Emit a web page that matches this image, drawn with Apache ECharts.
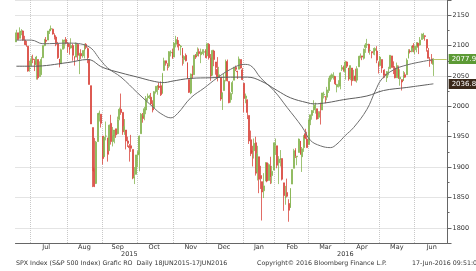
<!DOCTYPE html>
<html>
<head>
<meta charset="utf-8">
<script src="https://cdn.jsdelivr.net/npm/echarts/dist/echarts.min.js"></script>
</head>
<body style="margin:0">
<div id="main" style="width:476px;height:271px"></div>
<script>
// trading days in the window, per month
const tradingDays = {
    '2015-06': [18,19,22,23,24,25,26,29,30],
    '2015-07': [1,2,6,7,8,9,10,13,14,15,16,17,20,21,22,23,24,27,28,29,30,31],
    '2015-08': [3,4,5,6,7,10,11,12,13,14,17,18,19,20,21,24,25,26,27,28,31],
    '2015-09': [1,2,3,4,8,9,10,11,14,15,16,17,18,21,22,23,24,25,28,29,30],
    '2015-10': [1,2,5,6,7,8,9,12,13,14,15,16,19,20,21,22,23,26,27,28,29,30],
    '2015-11': [2,3,4,5,6,9,10,11,12,13,16,17,18,19,20,23,24,25,27,30],
    '2015-12': [1,2,3,4,7,8,9,10,11,14,15,16,17,18,21,22,23,24,28,29,30,31],
    '2016-01': [4,5,6,7,8,11,12,13,14,15,19,20,21,22,25,26,27,28,29],
    '2016-02': [1,2,3,4,5,8,9,10,11,12,16,17,18,19,22,23,24,25,26,29],
    '2016-03': [1,2,3,4,7,8,9,10,11,14,15,16,17,18,21,22,23,24,28,29,30,31],
    '2016-04': [1,4,5,6,7,8,11,12,13,14,15,18,19,20,21,22,25,26,27,28,29],
    '2016-05': [2,3,4,5,6,9,10,11,12,13,16,17,18,19,20,23,24,25,26,27,31],
    '2016-06': [1,2,3,6,7,8,9,10,13,14,15,16]
};

// daily candles: [open, close, low, high]
const ohlc = [
    [2106,2121,2106,2126],[2121,2110,2109,2121],[2112,2123,2112,2130],[2123,2124,2117,2127],[2124,2109,2108,2125],
    [2109,2102,2101,2116],[2102,2101,2098,2108],[2099,2058,2057,2099],[2062,2063,2057,2075],
    // Jul
    [2067,2077,2067,2083],[2078,2077,2071,2085],[2074,2069,2058,2078],[2069,2081,2044,2083],[2077,2047,2044,2077],
    [2049,2051,2049,2074],[2052,2077,2052,2081],[2080,2100,2080,2100],[2100,2109,2099,2111],[2109,2107,2103,2114],
    [2109,2124,2109,2124],[2124,2127,2119,2127],[2127,2128,2124,2133],[2127,2119,2118,2128],[2118,2114,2110,2120],
    [2114,2102,2099,2117],[2103,2080,2078,2106],[2078,2068,2064,2078],[2070,2093,2070,2095],[2094,2109,2094,2110],
    [2107,2109,2095,2110],[2110,2104,2102,2114],
    // Aug
    [2104,2098,2088,2106],[2097,2093,2085,2103],[2096,2100,2095,2112],[2100,2084,2075,2103],[2082,2078,2067,2082],
    [2081,2104,2081,2105],[2102,2084,2076,2102],[2082,2086,2053,2088],[2087,2083,2078,2094],[2083,2092,2080,2092],
    [2090,2102,2079,2103],[2102,2097,2094,2104],[2095,2080,2071,2097],[2077,2036,2036,2077],[2034,1971,1971,2034],
    [1965,1893,1867,1965],[1898,1868,1867,1948],[1873,1941,1872,1943],[1942,1988,1942,1989],[1986,1989,1975,1993],
    [1987,1972,1965,1987],
    // Sep
    [1951,1914,1904,1951],[1917,1949,1917,1949],[1951,1951,1944,1975],[1948,1921,1909,1948],[1927,1969,1927,1970],
    [1972,1942,1937,1986],[1942,1952,1934,1966],[1951,1961,1939,1961],[1963,1953,1948,1963],[1955,1978,1954,1983],
    [1979,1995,1977,1998],[1995,1990,1986,2021],[1990,1958,1953,1990],[1960,1967,1953,1979],[1961,1943,1929,1961],
    [1943,1939,1933,1950],[1935,1932,1909,1938],[1935,1931,1925,1953],[1929,1882,1880,1929],[1882,1884,1872,1900],
    [1888,1920,1888,1920],
    // Oct
    [1920,1924,1900,1927],[1921,1951,1893,1952],[1955,1987,1955,1989],[1985,1980,1973,1989],[1982,1996,1977,1999],
    [1994,2013,1987,2017],[2014,2015,2008,2021],[2015,2017,2012,2019],[2015,2004,2002,2022],[2004,1994,1990,2010],
    [1997,2024,1997,2025],[2024,2033,2021,2033],[2031,2034,2019,2035],[2033,2031,2027,2039],[2034,2019,2017,2041],
    [2021,2053,2021,2055],[2059,2075,2059,2080],[2075,2071,2067,2075],[2068,2066,2059,2071],[2066,2090,2063,2091],
    [2088,2089,2082,2092],[2090,2079,2078,2095],
    // Nov
    [2081,2104,2081,2106],[2102,2110,2097,2116],[2110,2102,2097,2114],[2102,2100,2092,2109],[2098,2099,2084,2101],
    [2096,2079,2067,2096],[2077,2082,2070,2084],[2084,2075,2074,2087],[2072,2046,2045,2072],[2044,2023,2022,2044],
    [2022,2053,2020,2054],[2054,2050,2046,2067],[2052,2084,2052,2084],[2084,2081,2078,2086],[2083,2089,2083,2097],
    [2090,2087,2082,2095],[2085,2089,2071,2095],[2089,2089,2086,2094],[2089,2090,2084,2094],[2091,2080,2080,2094],
    // Dec
    [2083,2103,2083,2104],[2102,2080,2077,2104],[2080,2050,2042,2086],[2051,2092,2051,2093],[2091,2077,2066,2093],
    [2073,2064,2052,2073],[2061,2048,2041,2081],[2048,2052,2048,2065],[2048,2012,2009,2048],[2014,2022,1994,2023],
    [2026,2043,2026,2054],[2047,2073,2041,2077],[2074,2042,2041,2077],[2041,2006,2005,2041],[2011,2021,2006,2023],
    [2024,2039,2020,2042],[2043,2064,2043,2065],[2064,2061,2058,2067],[2058,2057,2045,2058],[2061,2078,2061,2082],
    [2077,2063,2062,2077],[2060,2044,2043,2063],
    // Jan 2016
    [2038,2013,1990,2038],[2013,2017,2005,2021],[2011,1990,1979,2011],[1985,1943,1938,1985],[1945,1922,1918,1960],
    [1927,1924,1901,1935],[1927,1939,1914,1947],[1940,1890,1886,1950],[1892,1922,1878,1935],[1917,1880,1857,1917],
    [1886,1881,1864,1902],[1876,1859,1812,1876],[1861,1869,1849,1890],[1877,1907,1877,1908],[1907,1877,1875,1907],
    [1878,1904,1878,1906],[1902,1883,1872,1917],[1886,1893,1873,1902],[1895,1940,1895,1940],
    // Feb
    [1936,1939,1920,1947],[1935,1903,1898,1935],[1907,1913,1872,1918],[1911,1915,1901,1928],[1914,1880,1878,1914],
    [1874,1853,1828,1874],[1848,1852,1838,1869],[1858,1852,1850,1881],[1840,1829,1810,1847],[1833,1865,1833,1865],
    [1872,1896,1872,1896],[1898,1927,1898,1930],[1928,1918,1915,1931],[1917,1918,1903,1918],[1924,1946,1924,1947],
    [1943,1921,1920,1943],[1917,1930,1892,1933],[1932,1952,1925,1952],[1955,1948,1946,1963],[1946,1932,1932,1958],
    // Mar
    [1937,1978,1937,1978],[1976,1986,1969,1986],[1985,1993,1978,1994],[1994,2000,1989,2010],[1997,2002,1988,2006],
    [1996,1979,1978,1996],[1982,1989,1979,1992],[1991,1990,1970,2006],[1994,2022,1994,2022],[2019,2020,2013,2024],
    [2016,2016,2005,2016],[2015,2027,2010,2032],[2026,2041,2022,2047],[2041,2050,2041,2052],[2047,2052,2044,2054],
    [2048,2050,2044,2056],[2049,2037,2035,2049],[2032,2036,2023,2037],[2037,2037,2031,2043],[2033,2055,2028,2056],
    [2061,2064,2058,2068],[2063,2060,2057,2067],
    // Apr
    [2057,2073,2044,2075],[2073,2066,2063,2074],[2063,2045,2042,2063],[2046,2067,2043,2067],[2063,2042,2034,2063],
    [2045,2048,2042,2060],[2050,2042,2041,2062],[2043,2062,2039,2066],[2065,2082,2065,2083],[2082,2083,2079,2087],
    [2083,2081,2076,2083],[2079,2094,2077,2095],[2097,2101,2088,2104],[2101,2102,2096,2111],[2102,2091,2088,2103],
    [2092,2092,2085,2095],[2090,2088,2079,2090],[2090,2092,2085,2096],[2092,2095,2084,2097],[2091,2076,2071,2099],
    [2071,2065,2054,2074],
    // May
    [2067,2081,2067,2083],[2077,2063,2055,2077],[2060,2051,2046,2060],[2053,2051,2047,2061],[2047,2057,2040,2058],
    [2057,2059,2051,2065],[2062,2084,2062,2084],[2083,2064,2064,2083],[2067,2064,2053,2074],[2063,2047,2046,2066],
    [2047,2067,2047,2072],[2065,2047,2045,2067],[2045,2048,2034,2061],[2044,2040,2026,2044],[2042,2052,2042,2058],
    [2052,2048,2047,2056],[2052,2076,2052,2079],[2079,2091,2079,2094],[2091,2090,2087,2094],[2090,2099,2089,2099],
    [2100,2097,2089,2104],
    // Jun
    [2093,2099,2086,2100],[2097,2105,2089,2105],[2104,2099,2086,2104],[2101,2109,2100,2114],[2110,2112,2110,2120],
    [2113,2119,2111,2121],[2116,2115,2108,2117],[2110,2096,2090,2110],[2092,2079,2079,2096],[2076,2075,2065,2081],
    [2078,2072,2070,2086],[2069,2078,2050,2079]
];

// moving averages: [day index, value]
const maFastPts = [
    [0,2109],[9,2109],[16,2103],[31,2104],[43,2099],[51,2075],[55,2063],[63,2048],[73,2022],[83,1997],
    [87,1988],[93,1981],[97,1988],[105,2014],[113,2030],[121,2047],[129,2061],[137,2069],[141,2067],[147,2047],
    [155,2026],[163,1998],[172,1966],[177,1944],[183,1935],[189,1932],[193,1938],[198,1952],[203,1965],[211,1995],
    [216,2025],[220,2045],[227,2060],[235,2068],[245,2074],[251,2077]
];
const maSlowPts = [
    [0,2066],[10,2066],[31,2072],[43,2077],[52,2064],[63,2055],[73,2048],[83,2041],[89,2039],[93,2041],
    [105,2046],[117,2047],[129,2048],[139,2048],[147,2042],[157,2026],[165,2014],[175,2006],[179,2004],[187,2006],
    [197,2011],[211,2017],[221,2026],[235,2031],[251,2037]
];

const lastClose = 2077.99;
const lastSlow = 2036.81;
const monthNames = ['Jan','Feb','Mar','Apr','May','Jun','Jul','Aug','Sep','Oct','Nov','Dec'];

const dates = [];
Object.keys(tradingDays).forEach(function (m) {
    tradingDays[m].forEach(function (d) {
        dates.push(m + '-' + (d < 10 ? '0' + d : d));
    });
});
// empty room on the right of the last candle
const categories = dates.concat(new Array(8).fill(''));
const lastIdx = dates.length - 1;
const endIdx = categories.length - 1;

function isMonthStart(i) {
    return i > 0 && i < dates.length && dates[i].slice(0, 7) !== dates[i - 1].slice(0, 7);
}
function isMonthLabel(i) {
    return i > 0 && i < dates.length && dates[i].slice(0, 7) === dates[i - 1].slice(0, 7) &&
        +dates[i].slice(8) >= 15 && +dates[i - 1].slice(8) < 15;
}
const firstOfYear = dates.findIndex(function (d) { return d.indexOf('2016') === 0; });
const yearLabels = {};
yearLabels[Math.round((firstOfYear - 1) / 2)] = '2015';
yearLabels[Math.round((firstOfYear + endIdx) / 2)] = '2016';

const labelFont = 'DejaVu Sans';
const chart = echarts.init(document.getElementById('main'));

chart.setOption({
    animation: false,
    grid: { left: 15.5, top: -1, width: 432, height: 244 },
    xAxis: [{
        type: 'category',
        data: categories,
        boundaryGap: true,
        axisLine: { lineStyle: { color: '#666', width: 1 } },
        axisTick: { interval: isMonthStart, length: 3, lineStyle: { color: '#666' } },
        splitLine: { show: true, interval: isMonthStart, lineStyle: { color: '#c8c8c8', type: 'dotted' } },
        axisLabel: {
            interval: isMonthLabel,
            margin: 1,
            fontSize: 6.5,
            fontFamily: labelFont,
            color: '#333',
            formatter: function (v) { return v ? monthNames[+v.slice(5, 7) - 1] : ''; }
        }
    }, {
        type: 'category',
        data: categories,
        position: 'bottom',
        offset: 8,
        axisLine: { show: false },
        axisTick: {
            interval: function (i) { return i === firstOfYear; },
            length: 7,
            lineStyle: { color: '#888' }
        },
        splitLine: { show: false },
        axisLabel: {
            interval: function (i) { return yearLabels[i] !== undefined; },
            margin: 0,
            fontSize: 6.5,
            fontFamily: labelFont,
            color: '#333',
            formatter: function (v, i) { return yearLabels[i] || ''; }
        }
    }],
    yAxis: {
        type: 'value',
        position: 'right',
        min: 1775,
        max: 2175,
        splitNumber: 8,
        axisLine: { show: true, lineStyle: { color: '#666' } },
        axisTick: { show: true, length: 4, lineStyle: { color: '#666' } },
        minorTick: { show: true, splitNumber: 2, length: 2, lineStyle: { color: '#666' } },
        splitLine: { lineStyle: { color: '#c8c8c8', type: 'dotted' } },
        axisLabel: {
            margin: 5,
            fontSize: 6.5,
            fontFamily: labelFont,
            color: '#333',
            showMinLabel: false,
            showMaxLabel: false,
            formatter: function (v) { return String(v); }
        }
    },
    series: [{
        type: 'candlestick',
        data: ohlc,
        barWidth: 1.4,
        itemStyle: {
            color: '#86b552', color0: '#d9473f',
            borderColor: '#86b552', borderColor0: '#d9473f',
            borderWidth: 0.8
        },
        markLine: {
            silent: true,
            symbol: ['none', 'none'],
            lineStyle: { color: '#bcc76a', type: 'solid', width: 1 },
            label: {
                position: 'end', distance: 2,
                formatter: lastClose.toFixed(2),
                color: '#fff', backgroundColor: '#5c9a35',
                fontSize: 7, fontFamily: labelFont, padding: [2, 3, 1, 3]
            },
            data: [[{ coord: [lastIdx, lastClose] }, { coord: [endIdx, lastClose] }]]
        }
    }, {
        type: 'line',
        data: maFastPts,
        smooth: 0.4,
        showSymbol: false,
        lineStyle: { color: '#6f6f6f', width: 1 }
    }, {
        type: 'line',
        data: maSlowPts,
        smooth: 0.4,
        showSymbol: false,
        lineStyle: { color: '#5e5e5e', width: 1 },
        markLine: {
            silent: true,
            symbol: ['none', 'none'],
            lineStyle: { color: 'rgba(0,0,0,0)', width: 1 },
            label: {
                position: 'end', distance: 2,
                formatter: lastSlow.toFixed(2),
                color: '#fff', backgroundColor: '#3a2819',
                fontSize: 7, fontFamily: labelFont, padding: [2, 3, 1, 3]
            },
            data: [[{ coord: [lastIdx, lastSlow] }, { coord: [endIdx, lastSlow] }]]
        }
    }],
    graphic: [
        { type: 'text', left: 16, top: 260, style: { text: 'SPX Index (S&P 500 Index) Grafic RO  Daily 18JUN2015-17JUN2016', font: '6.3px DejaVu Sans', fill: '#333' } },
        { type: 'text', left: 257, top: 260, style: { text: 'Copyright\u00a9 2016 Bloomberg Finance L.P.', font: '6.3px DejaVu Sans', fill: '#333' } },
        { type: 'text', left: 412, top: 260, style: { text: '17-Jun-2016 09:51:05', font: '6.3px DejaVu Sans', fill: '#333' } }
    ]
});
</script>
</body>
</html>
